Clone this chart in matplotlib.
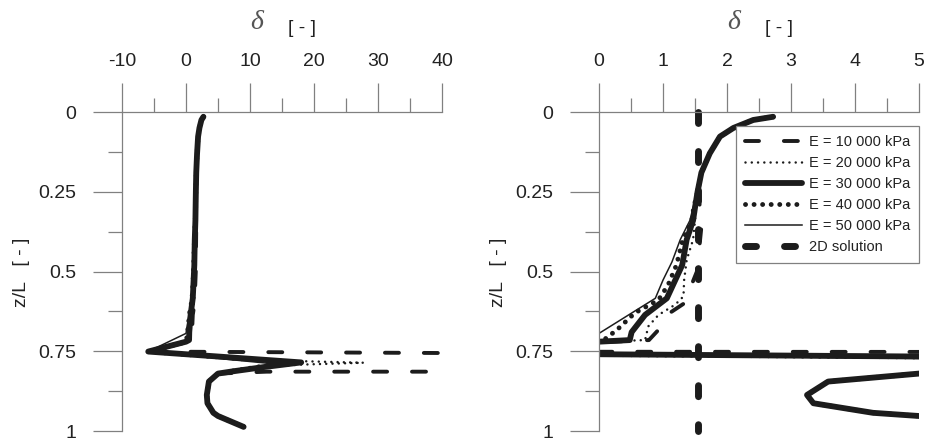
import numpy as np
import matplotlib.pyplot as plt
from matplotlib.ticker import MultipleLocator

plt.rcParams['font.family'] = ['Liberation Sans', 'DejaVu Sans']
plt.rcParams['axes.unicode_minus'] = False

# depth profiles of delta for each stiffness (z/L, delta)
z_top = [0.015, 0.025, 0.05, 0.077, 0.13, 0.19, 0.25]
d_top = [2.72, 2.41, 2.10, 1.89, 1.73, 1.60, 1.54]

z_bot = [0.82, 0.845, 0.887, 0.913, 0.943, 0.953, 0.987]
d_bot = [5.0, 3.58, 3.25, 3.35, 4.28, 5.0, 9.0]

z_10 = [0.30, 0.36, 0.42, 0.50, 0.555, 0.60, 0.636, 0.672, 0.715, 0.722,
        0.751, 0.756, 0.814, 0.814]
d_10 = [1.58, 1.60, 1.57, 1.53, 1.42, 1.33, 1.06, 0.98, 0.78, 0.0,
        -5.9, 45.0, 45.0, 12.6]

z_20 = [0.30, 0.34, 0.40, 0.464, 0.527, 0.578, 0.604, 0.636, 0.672, 0.715,
        0.72, 0.751, 0.781, 0.786, 0.792, 0.80, 0.813]
d_20 = [1.52, 1.50, 1.47, 1.37, 1.33, 1.32, 1.19, 0.93, 0.77, 0.72,
        0.0, -5.9, 17.8, 27.7, 17.8, 12.0, 7.3]

z_30 = [0.30, 0.34, 0.40, 0.48, 0.584, 0.636, 0.69, 0.715, 0.72,
        0.751, 0.785, 0.80, 0.813]
d_30 = [1.50, 1.47, 1.37, 1.30, 1.06, 0.72, 0.51, 0.48, 0.0,
        -5.9, 18.0, 12.0, 7.3]

z_40 = [0.30, 0.34, 0.40, 0.48, 0.542, 0.589, 0.63, 0.683, 0.72,
        0.751, 0.785, 0.80, 0.813]
d_40 = [1.48, 1.45, 1.31, 1.21, 1.08, 0.93, 0.56, 0.28, 0.04,
        -5.9, 16.0, 11.0, 7.0]

z_50 = [0.30, 0.34, 0.40, 0.47, 0.527, 0.584, 0.694,
        0.751, 0.79, 0.80, 0.813]
d_50 = [1.47, 1.42, 1.27, 1.14, 1.00, 0.88, 0.0,
        -5.9, 14.0, 10.5, 7.0]

delta_2d = 1.54
labels = ['E = 10 000 kPa', 'E = 20 000 kPa', 'E = 30 000 kPa',
          'E = 40 000 kPa', 'E = 50 000 kPa', '2D solution']

ink = '#1c1c1c'
grey = '#808080'
txt = '#222222'

styles = [
    dict(lw=2.8, dashes=(3.6, 6.4), dash_capstyle='round'),
    dict(lw=1.8, dashes=(0.01, 2.5), dash_capstyle='round'),
    dict(lw=4.2, solid_capstyle='round', solid_joinstyle='round'),
    dict(lw=3.5, dashes=(0.01, 1.75), dash_capstyle='round'),
    dict(lw=1.1),
]
series = [(z_10, d_10), (z_20, d_20), (z_30, d_30), (z_40, d_40), (z_50, d_50)]


def profile(z, d):
    zz = np.concatenate([z_top, z, z_bot])
    dd = np.concatenate([d_top, d, d_bot])
    return zz, dd


fig = plt.figure(figsize=(9.27, 4.41), dpi=100)
ax1 = fig.add_axes([122 / 927, 10 / 441, 320 / 927, 319 / 441])
ax2 = fig.add_axes([599 / 927, 10 / 441, 320 / 927, 319 / 441])

for ax, xlim, major, minor in [(ax1, (-10, 40), 10, 5), (ax2, (0, 5), 1, 0.5)]:
    for (z, d), st in zip(series, styles):
        zz, dd = profile(z, d)
        ax.plot(dd, zz, color=ink, **st)
    ax.set_xlim(*xlim)
    ax.set_ylim(1, 0)
    ax.xaxis.set_major_locator(MultipleLocator(major))
    ax.xaxis.set_minor_locator(MultipleLocator(minor))
    ax.yaxis.set_minor_locator(MultipleLocator(0.125))
    ax.set_yticks([0, 0.25, 0.5, 0.75, 1])
    ax.set_yticklabels(['0', '0.25', '0.5', '0.75', '1'])
    ax.xaxis.tick_top()
    for s in ['right', 'bottom']:
        ax.spines[s].set_visible(False)
    for s in ['left', 'top']:
        ax.spines[s].set_color(grey)
        ax.spines[s].set_linewidth(0.9)
    ax.tick_params(which='major', direction='out', length=21, width=0.9,
                   color=grey, labelsize=14, labelcolor=txt)
    ax.tick_params(axis='y', which='major', pad=12)
    ax.tick_params(axis='x', which='major', pad=9)
    ax.tick_params(which='minor', direction='out', length=10, width=0.9,
                   color=grey)
    ax.set_facecolor('none')
    ax.text(0.422, 1.279, 'δ', transform=ax.transAxes, ha='center', va='center',
            fontsize=20, family='Liberation Serif', style='italic', color='#555555')
    ax.text(0.5625, 1.263, '[ - ]', transform=ax.transAxes, ha='center',
            va='center', fontsize=14, color=txt)
    ax.text(-0.315, 0.498, 'z/L   [ - ]', transform=ax.transAxes, ha='center',
            va='center', rotation=90, fontsize=14, color=txt)

# 2D reference solution only shown in the zoomed panel
ax2.plot([delta_2d, delta_2d], [0, 1], color=ink, lw=5, dashes=(1.58, 4.04),
         dash_capstyle='round', clip_on=False)

handles = ax2.get_lines()
leg = ax2.legend(handles, labels, loc='upper right', bbox_to_anchor=(1.0, 0.956),
                 borderaxespad=0, fontsize=10.5, handlelength=3.9,
                 handletextpad=0.5, labelspacing=0.48, borderpad=0.6,
                 fancybox=False, framealpha=1, edgecolor=grey)
leg.get_frame().set_linewidth(0.9)
for t in leg.get_texts():
    t.set_color(txt)

fig.savefig('out.png', dpi=100)
